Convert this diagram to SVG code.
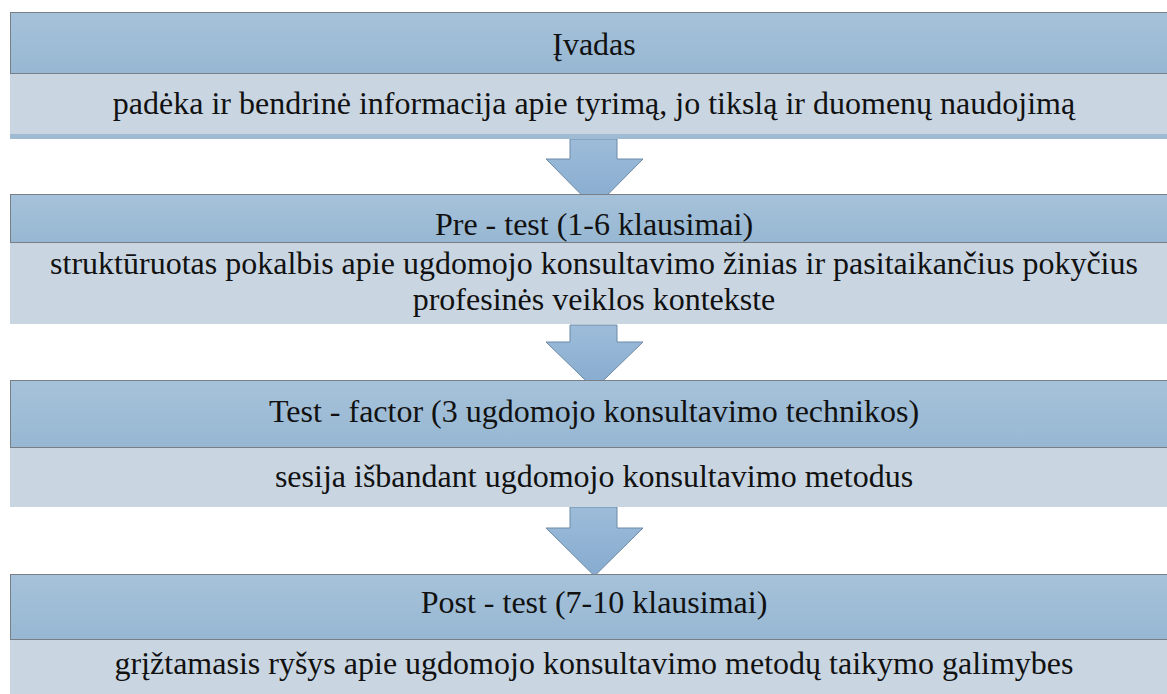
<svg xmlns="http://www.w3.org/2000/svg" width="1167" height="694" viewBox="0 0 1167 694">
<style>
.hdr{fill:url(#hg);stroke:#7a7f86;stroke-width:1}
.sub{fill:#c9d6e2}
.strip{fill:#9fbad3}
.t{font-size:32px;fill:#111;text-anchor:middle}
.arr{fill:url(#ag);stroke:#6d8aa6;stroke-width:1}
</style>
<defs>
<linearGradient id="hg" x1="0" y1="0" x2="0" y2="1">
<stop offset="0" stop-color="#a6c2da"/>
<stop offset="1" stop-color="#97b7d2"/>
</linearGradient>
<linearGradient id="ag" x1="0" y1="0" x2="0" y2="1">
<stop offset="0" stop-color="#9dbcd9"/>
<stop offset="1" stop-color="#86abcf"/>
</linearGradient>
</defs>
<rect width="1167" height="694" fill="#fff"/>
<g id="connectors">
<path class="arr" d="M570,139 H617 V159 H643 L594.5,208 L546,159 H570 Z"/>
<path class="arr" d="M570,325 H617 V342 H643 L594.5,389 L546,342 H570 Z"/>
<path class="arr" d="M570,507 H617 V528 H643 L594.5,576 L546,528 H570 Z"/>
</g>
<g id="node1" font-family="'Liberation Serif', 'Times New Roman', 'DejaVu Serif', serif">
<rect class="sub" x="10" y="74" width="1157" height="60"/>
<rect class="strip" x="10" y="134" width="1157" height="5"/>
<rect class="hdr" x="10.5" y="12.5" width="1157" height="61"/>
<text class="t" x="594" y="55">Įvadas</text>
<text class="t" x="594" y="114">padėka ir bendrinė informacija apie tyrimą, jo tikslą ir duomenų naudojimą</text>
</g>
<g id="node2" font-family="'Liberation Serif', 'Times New Roman', 'DejaVu Serif', serif">
<rect class="sub" x="10" y="242" width="1157" height="82"/>
<rect class="hdr" x="10.5" y="194.5" width="1157" height="48"/>
<text class="t" x="594" y="235">Pre - test (1-6 klausimai)</text>
<text class="t" x="594" y="274">struktūruotas pokalbis apie ugdomojo konsultavimo žinias ir pasitaikančius pokyčius</text>
<text class="t" x="594" y="310">profesinės veiklos kontekste</text>
</g>
<g id="node3" font-family="'Liberation Serif', 'Times New Roman', 'DejaVu Serif', serif">
<rect class="sub" x="10" y="448" width="1157" height="59"/>
<rect class="hdr" x="10.5" y="380.5" width="1157" height="67"/>
<text class="t" x="594" y="422">Test - factor (3 ugdomojo konsultavimo technikos)</text>
<text class="t" x="594" y="487">sesija išbandant ugdomojo konsultavimo metodus</text>
</g>
<g id="node4" font-family="'Liberation Serif', 'Times New Roman', 'DejaVu Serif', serif">
<rect class="sub" x="10" y="640" width="1157" height="54"/>
<rect class="hdr" x="10.5" y="574.5" width="1157" height="65"/>
<text class="t" x="594" y="613">Post - test (7-10 klausimai)</text>
<text class="t" x="594" y="674">grįžtamasis ryšys apie ugdomojo konsultavimo metodų taikymo galimybes</text>
</g>
</svg>
